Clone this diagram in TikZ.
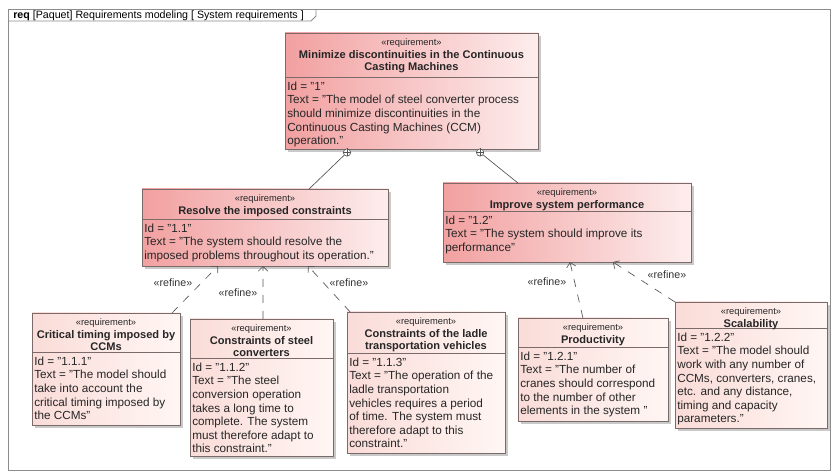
\documentclass[tikz,border=0pt]{standalone}
\usepackage{fontspec}
\setmainfont{Liberation Sans}
\usetikzlibrary{fit,calc,shadows,arrows.meta}
\definecolor{bord}{HTML}{7A6A6A}
\definecolor{framec}{HTML}{8C8C8C}
\definecolor{strongL}{HTML}{F2A0A0}
\definecolor{strongR}{HTML}{FDEDED}
\definecolor{lightL}{HTML}{FADCD8}
\definecolor{lightR}{HTML}{FFF6F4}
\definecolor{linec}{HTML}{555555}
\newcommand\stfont{\fontsize{7}{8.4}\selectfont}
\newcommand\ttlfont{\fontsize{8.3}{9.2}\selectfont\bfseries}
\newcommand\bdfont{\fontsize{8.8}{10.2}\selectfont}
\tikzset{
  reqbox/.style={draw=bord, line width=0.5pt, inner sep=0pt, outer sep=0pt,
     drop shadow={shadow xshift=2pt, shadow yshift=-2pt, fill=gray!70, opacity=0.6}},
  strong/.style={left color=strongL, right color=strongR},
  light/.style={left color=lightL, right color=lightR},
  stereo/.style={anchor=north, align=center, inner sep=0pt, text=black!85, font=\stfont},
  ttl/.style={anchor=north, align=center, inner sep=0pt, text=black!85, font=\ttlfont},
  body/.style={anchor=north west, align=left, inner sep=0pt, text=black!85, font=\bdfont},
  lbl/.style={inner sep=0pt, font=\fontsize{8}{9}\selectfont, text=black!80},
  refine/.style={draw=linec, line width=0.5pt, dash pattern=on 6pt off 6pt,
     -{Straight Barb[length=3.5pt,width=7pt]}},
  contain/.style={draw=linec, line width=0.5pt},
  knob/.style={circle, draw=linec, line width=0.5pt, inner sep=0pt, minimum size=5.5pt, fill=white}
}
% name, x1, y1, x2, y2, ydiv, style, header, body
\newcommand\reqnode[9]{%
  \node[reqbox, #7, fit={(#2,#3) (#4,#5)}] (#1) {};
  \draw[bord, line width=0.5pt] (#2,#6) -- (#4,#6);
  \node[stereo] (#1s) at ({(#2+#4)/2},#3+5.5) {«requirement»};
  \node[ttl] (#1h) at ([yshift=-1.8pt]#1s.south) {#8};
  \node[body] (#1b) at (#2+2,#6+4.5) {#9};
}
\begin{document}
\begin{tikzpicture}[x=0.75pt,y=-0.75pt]
\useasboundingbox (0,0) rectangle (834,473);
\fill[white] (0,0) rectangle (834,473);
% frame
\draw[framec, line width=0.6pt] (8,9) rectangle (830,470);
\draw[framec, line width=0.6pt] (8,21) -- (311,21) -- (316,16) -- (316,9);
\node[anchor=west, inner sep=0pt, font=\fontsize{8}{9}\selectfont] (title) at (13,15.5)
  {\textbf{req} [Paquet] Requirements modeling [ System requirements ]};

\reqnode{n1}{285}{33}{538}{149}{77}{strong}
  {Minimize discontinuities in the Continuous\\Casting Machines}
  {Id = "1"\\Text = "The model of steel converter process\\should minimize discontinuities in the\\Continuous Casting Machines (CCM)\\operation."}

\reqnode{n11}{142}{189}{388}{266}{219}{strong}
  {Resolve the imposed constraints}
  {Id = "1.1"\\Text = "The system should resolve the\\imposed problems throughout its operation."}

\reqnode{n12}{443}{183}{691}{262}{211}{strong}
  {Improve system performance}
  {Id = "1.2"\\Text = "The system should improve its\\performance"}

\reqnode{n111}{32}{313}{180}{425}{352}{light}
  {Critical timing imposed by\\CCMs}
  {Id = "1.1.1"\\Text = "The model should\\take into account the\\critical timing imposed by\\the CCMs"}

\reqnode{n112}{190}{319}{333}{456}{358}{light}
  {Constraints of steel\\converters}
  {Id = "1.1.2"\\Text = "The steel\\conversion operation\\takes a long time to\\complete. The system\\must therefore adapt to\\this constraint."}

\reqnode{n113}{347}{312}{505}{453}{353}{light}
  {Constraints of the ladle\\transportation vehicles}
  {Id = "1.1.3"\\Text = "The operation of the\\ladle transportation\\vehicles requires a period\\of time. The system must\\therefore adapt to this\\constraint."}

\reqnode{n121}{518}{318}{668}{421}{347}{light}
  {Productivity}
  {Id = "1.2.1"\\Text = "The number of\\cranes should correspond\\to the number of other\\elements in the system "}

\reqnode{n122}{675}{302}{827}{428}{328}{light}
  {Scalability}
  {Id = "1.2.2"\\Text = "The model should\\work with any number of\\CCMs, converters, cranes,\\etc. and any distance,\\timing and capacity\\parameters."}

% containment
\node[knob] (k1) at ($(n1.south west)!0.245!(n1.south east)+(0,3.5)$) {};
\node[knob] (k2) at ($(n1.south west)!0.771!(n1.south east)+(0,3.5)$) {};
\foreach \k in {k1,k2}{
  \draw[linec, line width=0.4pt] (\k.north) -- (\k.south) (\k.west) -- (\k.east);
}
\draw[contain] (k1) -- ($(n11.north west)!0.679!(n11.north east)$);
\draw[contain] (k2) -- ($(n12.north west)!0.302!(n12.north east)$);

% refine
\draw[refine] ($(n111.north west)!0.946!(n111.north east)$) -- ($(n11.south west)!0.309!(n11.south east)$);
\draw[refine] ($(n112.north west)!0.51!(n112.north east)$) -- ($(n11.south west)!0.492!(n11.south east)$);
\draw[refine] ($(n113.north west)!0.02!(n113.north east)$) -- ($(n11.south west)!0.675!(n11.south east)$);
\draw[refine] ($(n121.north west)!0.433!(n121.north east)$) -- ($(n12.south west)!0.512!(n12.south east)$);
\draw[refine] (n122.north west) -- ($(n12.south west)!0.685!(n12.south east)$);

\node[lbl] (l1) at (173,283) {«refine»};
\node[lbl] (l2) at (238,293) {«refine»};
\node[lbl] (l3) at (349,283) {«refine»};
\node[lbl] (l4) at (547,282) {«refine»};
\node[lbl] (l5) at (667,275) {«refine»};
\end{tikzpicture}
\end{document}
